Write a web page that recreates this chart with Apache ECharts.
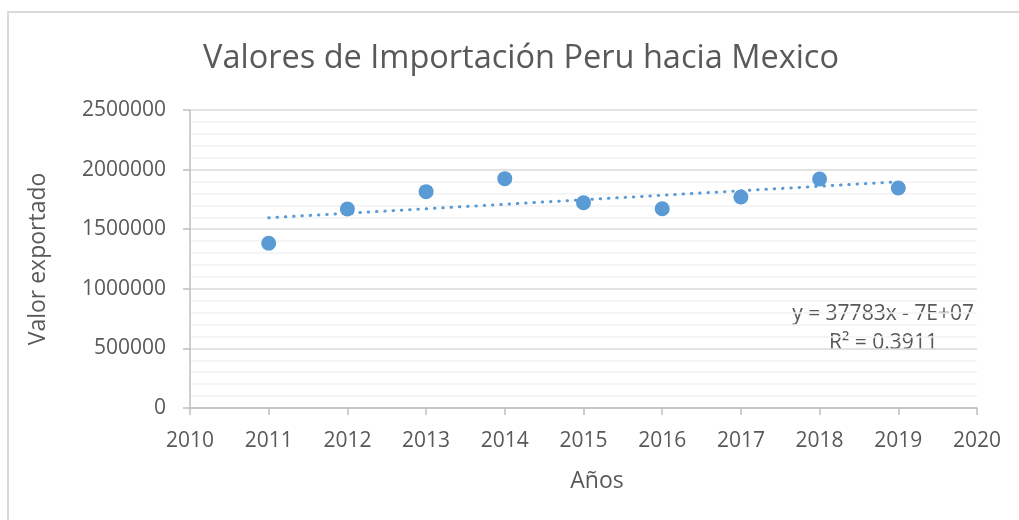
<!DOCTYPE html>
<html>
<head>
<meta charset="utf-8">
<script src="https://cdn.jsdelivr.net/npm/echarts@6/dist/echarts.min.js"></script>
<style>
html,body{margin:0;padding:0;background:#fff;}
#c{width:1019px;height:520px;}
</style>
</head>
<body>
<div id="c"></div>
<script>
const titleText = 'Valores de Importación Peru hacia Mexico';
const years = [2011, 2012, 2013, 2014, 2015, 2016, 2017, 2018, 2019];
const values = [1382000, 1669000, 1815000, 1924000, 1722000, 1672000, 1770000, 1921000, 1846000];
const trendYears = [2011, 2019];
const trendValues = [1596000, 1898000];
const equationLines = ['y = 37783x - 7E+07', 'R² = 0.3911'];
const xAxisTitle = 'Años';
const yAxisTitle = 'Valor exportado';

const FONT = 'Open Sans';
const TXT = '#595959';
const chart = echarts.init(document.getElementById('c'));
chart.setOption({
  backgroundColor: '#fff',
  animation: false,
  title: {
    text: titleText, left: 198, top: 37,
    textStyle: {fontFamily: FONT, fontSize: 32.5, fontWeight: 'normal', color: TXT}
  },
  grid: {left: 190, right: 42, top: 110, bottom: 112, containLabel: false},
  xAxis: {
    type: 'value', min: 2010, max: 2020, interval: 1,
    name: xAxisTitle, nameLocation: 'middle', nameGap: 62,
    nameTextStyle: {fontFamily: FONT, fontSize: 23, color: TXT, padding: [0, 0, 0, 27]},
    axisLine: {show: true, onZero: false, lineStyle: {color: '#bfbfbf', width: 1.5}},
    axisTick: {show: true, length: 7, lineStyle: {color: '#bfbfbf', width: 1.5}},
    axisLabel: {fontFamily: FONT, fontSize: 21, color: TXT, margin: 23, formatter: v => String(v)},
    splitLine: {show: false}
  },
  yAxis: {
    type: 'value', min: 0, max: 2500000, interval: 500000,
    name: yAxisTitle, nameLocation: 'middle', nameGap: 140, nameRotate: 90,
    nameTextStyle: {fontFamily: FONT, fontSize: 23, color: TXT},
    axisLine: {show: true, lineStyle: {color: '#bfbfbf', width: 1.5}},
    axisTick: {show: true, length: 7, lineStyle: {color: '#bfbfbf', width: 1.5}},
    axisLabel: {fontFamily: FONT, fontSize: 21, color: TXT, margin: 24, formatter: v => String(v)},
    splitLine: {show: true, lineStyle: {color: '#d9d9d9', width: 1.5}},
    minorTick: {show: true, splitNumber: 5, length: 0},
    minorSplitLine: {show: true, lineStyle: {color: '#f2f2f2', width: 1.5}}
  },
  graphic: [
    {type: 'rect', shape: {x: 8, y: 12, width: 1100, height: 600}, style: {fill: 'none', stroke: '#d9d9d9', lineWidth: 2}, silent: true, z: -1},
    {type: 'text', right: 45, top: 304, style: {text: equationLines[0], font: '21px "Open Sans"', fill: TXT}},
    {type: 'text', left: 829, top: 333, style: {text: equationLines[1], font: '21px "Open Sans"', fill: TXT}}
  ],
  series: [
    {
      type: 'line', data: trendYears.map((y, i) => [y, trendValues[i]]),
      symbol: 'none', z: 2,
      lineStyle: {color: '#5b9bd5', width: 3, type: [0.5, 7.8], cap: 'round'}
    },
    {
      type: 'scatter', data: years.map((y, i) => [y, values[i]]),
      symbol: 'circle', symbolSize: 15, z: 3,
      itemStyle: {color: '#5b9bd5', opacity: 1}
    }
  ]
});
</script>
</body>
</html>
